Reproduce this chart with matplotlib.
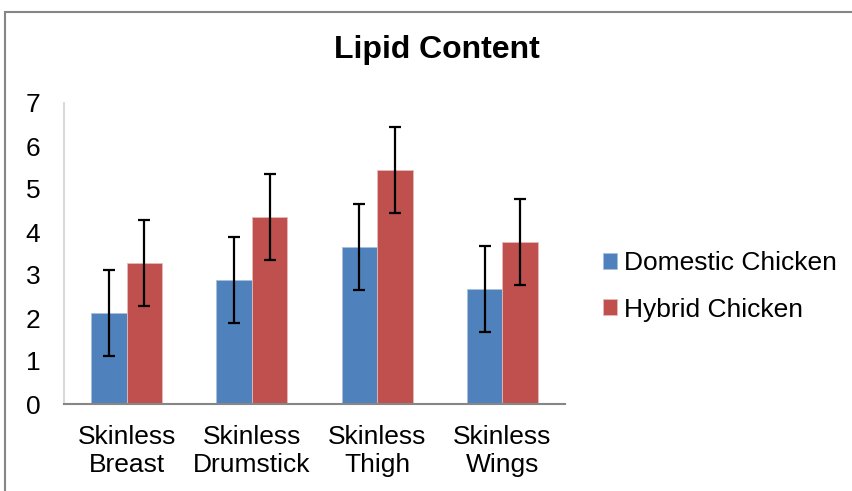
import matplotlib
matplotlib.use("Agg")
import matplotlib.pyplot as plt
import numpy as np
from matplotlib.patches import Rectangle

categories = ["Skinless\nBreast", "Skinless\nDrumstick", "Skinless\nThigh", "Skinless\nWings"]
domestic = [2.12, 2.88, 3.66, 2.68]
hybrid = [3.27, 4.34, 5.44, 3.76]
domestic_err = [1.0, 1.0, 1.0, 1.0]
hybrid_err = [1.0, 1.0, 1.0, 1.0]
series_names = ["Domestic Chicken", "Hybrid Chicken"]
yticks = [0, 1, 2, 3, 4, 5, 6, 7]

plt.rcParams['font.family'] = ['Liberation Sans', 'DejaVu Sans']

fig = plt.figure(figsize=(8.53, 4.91), dpi=100)
ax = fig.add_axes([64/853, 1-404/491, (565-64)/853, (404-103)/491])

x = np.arange(len(categories))
w = 0.283
err_kw = dict(ecolor='black', elinewidth=1.6, capsize=4.5, capthick=1.6)
b1 = ax.bar(x - w/2, domestic, w, yerr=domestic_err, color='#4F81BD',
            edgecolor='#A7BFDE', linewidth=0.6, error_kw=err_kw, label=series_names[0])
b2 = ax.bar(x + w/2, hybrid, w, yerr=hybrid_err, color='#C0504D',
            edgecolor='#E6B9B8', linewidth=0.6, error_kw=err_kw, label=series_names[1])

ax.set_xlim(-0.5, len(categories) - 0.5)
ax.set_ylim(0, 7)
ax.set_yticks(yticks)
ax.set_xticks(x)
ax.set_xticklabels(categories, fontsize=19, linespacing=1.2)
ax.tick_params(axis='y', length=0, pad=17, labelsize=19)
ax.tick_params(axis='x', length=0, pad=15)
for s in ['top', 'right']:
    ax.spines[s].set_visible(False)
for s in ['left', 'bottom']:
    ax.spines[s].set_color('#868686')
    ax.spines[s].set_linewidth(1.5)
ax.spines['left'].set_color('#D9D9D9')

fig.text(437/853, 1-50/491, "Lipid Content", ha='center', va='center',
         fontsize=23, fontweight='bold')

fig.legend(handles=[b1, b2], labels=series_names, loc='center left',
           bbox_to_anchor=(579/853, 1-286.5/491), frameon=False, fontsize=19,
           handlelength=0.55, handleheight=0.55, handletextpad=0.25, labelspacing=0.85)

fig.patches.append(Rectangle((5/853, -0.1), 1.2, 1-12/491+0.1, transform=fig.transFigure,
                             fill=False, edgecolor='#868686', linewidth=1.5))

fig.savefig("out.png", dpi=100)
